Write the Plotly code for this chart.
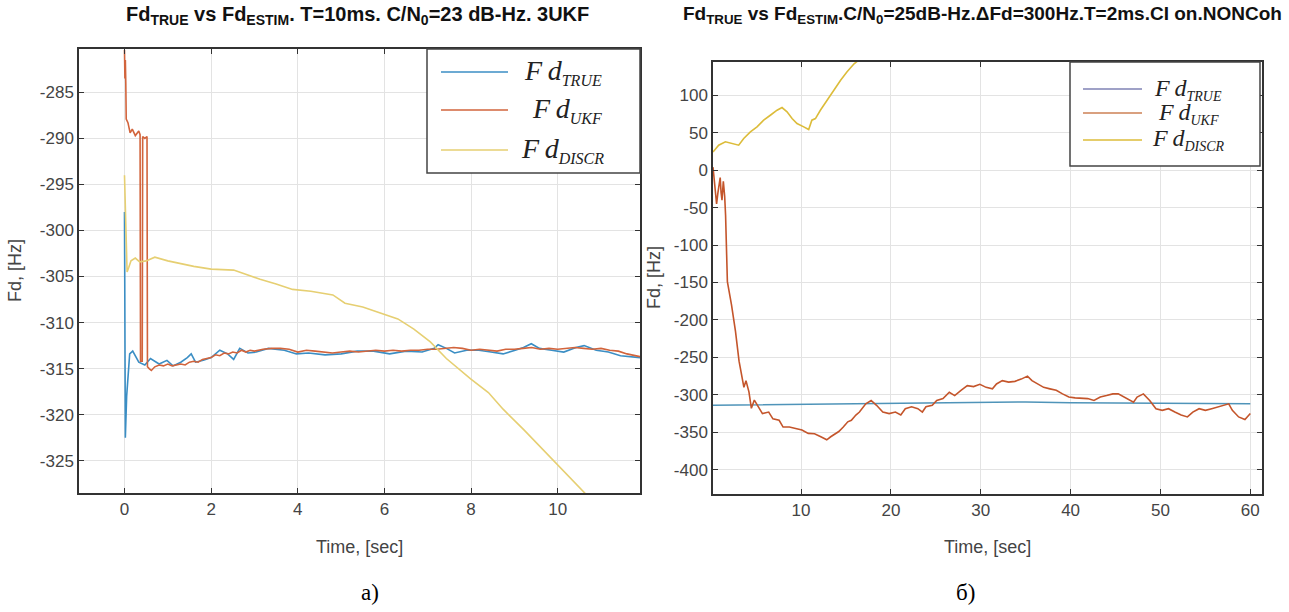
import plotly.graph_objects as go

W, H = 1289, 612

# ---------------- data: panel a) ----------------
t_true_a = [0.0, 0.02, 0.05, 0.12, 0.19, 0.33, 0.47, 0.6, 0.8, 0.98, 1.12, 1.3, 1.45, 1.54, 1.64, 1.82,
            2.0, 2.2, 2.38, 2.52, 2.66, 2.85, 3.04, 3.32, 3.69, 3.97, 4.25, 4.63, 5.0, 5.37, 5.75,
            6.12, 6.5, 6.87, 7.15, 7.24, 7.43, 7.62, 7.9, 8.18, 8.46, 8.74, 9.02, 9.21, 9.39, 9.58,
            9.86, 10.14, 10.42, 10.61, 10.89, 11.17, 11.45, 11.9]
fd_true_a = [-298.0, -322.5, -318.0, -313.4, -313.1, -314.3, -314.6, -313.9, -314.5, -314.1, -314.7, -314.3,
             -313.8, -313.4, -314.3, -314.1, -313.8, -313.0, -313.4, -314.0, -312.8, -313.3, -313.2,
             -312.8, -313.0, -313.4, -313.3, -313.5, -313.4, -313.1, -313.1, -313.4, -313.1, -313.2,
             -312.8, -312.4, -312.8, -313.3, -313.0, -313.0, -313.2, -313.4, -313.0, -312.7, -312.3,
             -312.8, -313.0, -313.2, -312.7, -312.5, -313.0, -313.2, -313.6, -313.8]

t_ukf_a = [0.0, 0.01, 0.02, 0.03, 0.04, 0.08, 0.13, 0.18, 0.25, 0.33, 0.36, 0.37, 0.41, 0.42, 0.47, 0.52,
           0.53, 0.57, 0.62, 0.7, 0.8, 0.9, 1.0, 1.1, 1.2, 1.3, 1.4, 1.5, 1.6, 1.7, 1.8, 1.9, 2.0, 2.1,
           2.2, 2.3, 2.4, 2.5, 2.6, 2.7, 2.8, 2.9, 3.0, 3.2, 3.4, 3.6, 3.8, 4.0, 4.2, 4.4, 4.6, 4.8,
           5.0, 5.2, 5.4, 5.6, 5.8, 6.0, 6.2, 6.4, 6.6, 6.8, 7.0, 7.2, 7.4, 7.6, 7.8, 8.0, 8.2, 8.4,
           8.6, 8.8, 9.0, 9.2, 9.4, 9.6, 9.8, 10.0, 10.2, 10.4, 10.6, 10.8, 11.0, 11.2, 11.4, 11.6, 11.9]
fd_ukf_a = [-280.4, -283.5, -281.5, -284.0, -287.9, -288.3, -289.4, -289.0, -289.7, -289.2, -289.6, -314.2,
            -314.2, -289.8, -290.0, -289.8, -314.8, -315.0, -315.2, -314.8, -314.6, -314.7, -314.5,
            -314.7, -314.6, -314.5, -314.6, -314.3, -314.2, -314.3, -314.0, -313.9, -313.8, -313.5,
            -313.6, -313.3, -313.4, -313.2, -313.3, -313.0, -313.2, -313.0, -313.1, -312.9, -312.8,
            -312.8, -312.9, -313.2, -313.0, -313.1, -313.2, -313.3, -313.2, -313.1, -313.2, -313.1,
            -313.0, -313.1, -313.0, -313.1, -313.0, -313.0, -312.9, -312.9, -312.8, -312.7, -312.8,
            -313.0, -312.9, -313.0, -313.1, -312.9, -312.9, -312.8, -312.7, -312.9, -312.8, -312.9,
            -312.8, -312.7, -312.8, -312.9, -312.8, -313.0, -313.1, -313.4, -313.7]

t_discr_a = [0.0, 0.03, 0.06, 0.1, 0.15, 0.25, 0.35, 0.5, 0.7, 1.0, 1.3, 1.6, 2.0, 2.52, 3.13, 3.5, 3.88,
             4.3, 4.81, 5.09, 5.5, 5.93, 6.31, 6.68, 7.06, 7.43, 7.99, 8.4, 8.74, 9.21, 9.6, 9.95, 10.3,
             10.7, 10.85]
fd_discr_a = [-294.0, -301.0, -304.5, -304.0, -303.3, -303.0, -303.4, -303.3, -302.9, -303.3, -303.6,
              -303.9, -304.2, -304.3, -305.3, -305.8, -306.4, -306.6, -307.0, -307.9, -308.3, -309.0,
              -309.6, -310.7, -312.1, -313.9, -316.1, -317.6, -319.4, -321.6, -323.5, -325.3, -327.0,
              -328.9, -329.6]

# ---------------- data: panel б) ----------------
t_true_b = [0.2, 5, 10, 15, 20, 25, 30, 35, 40, 45, 50, 55, 60]
fd_true_b = [-314.0, -313.5, -313.0, -312.0, -311.0, -310.5, -310.0, -309.5, -310.5, -310.8, -311.0,
             -311.5, -312.0]

t_ukf_b = [0.2, 0.3, 0.45, 0.6, 0.75, 0.9, 1.0, 1.1, 1.2, 1.35, 1.5, 1.6, 1.7, 1.8, 2.26, 2.7, 3.1, 3.4,
           3.64, 3.87, 4.2, 4.47, 4.8, 5.25, 5.7, 6.4, 6.87, 7.56, 8.0, 8.7, 9.4, 10.1, 10.8, 11.5, 12.2,
           12.86, 13.3, 13.8, 14.2, 14.7, 15.2, 15.6, 16.1, 16.5, 17.2, 17.8, 18.4, 19.1, 19.8, 20.5,
           21.1, 21.6, 22.3, 23.0, 23.5, 23.9, 24.6, 25.1, 25.8, 26.5, 27.1, 27.8, 28.5, 29.2, 29.9,
           30.6, 31.3, 31.75, 32.4, 33.1, 33.8, 34.5, 35.2, 35.7, 36.4, 37.0, 37.7, 38.4, 39.1, 39.8,
           40.5, 41.2, 41.9, 42.6, 43.3, 44.0, 44.7, 45.3, 46.0, 47.0, 47.4, 48.1, 48.8, 49.5, 50.2,
           50.9, 51.6, 52.3, 53.0, 53.6, 54.3, 55.0, 55.7, 56.4, 57.1, 57.6, 58.0, 58.7, 59.4, 60.0]
fd_ukf_b = [4, -10, -25, -45, -30, -18, -10, -30, -40, -15, -35, -60, -100, -149, -180, -215, -255, -277,
            -290, -281, -296, -318, -307, -316, -325, -323, -332, -334, -343, -343, -345, -347, -351.5,
            -352, -356, -360, -356, -352, -349, -343, -336, -334, -327, -323, -312, -307.5, -314, -323,
            -325, -323, -327, -318.5, -316, -318.5, -323, -316, -314, -307.5, -305, -296.5, -301, -294,
            -287.7, -289, -286, -290, -292, -285.5, -281, -283, -282, -279, -275, -281, -285.5, -290,
            -292, -294, -298.7, -303, -304, -305, -305, -307.5, -303, -301, -298.7, -298.7, -303,
            -309.7, -303, -298.7, -307.5, -318.5, -320.7, -318.5, -323, -327, -329.5, -323, -318.5,
            -320.7, -318.5, -316, -314, -312, -320.7, -329.5, -333, -325]

t_discr_b = [0.2, 0.83, 1.58, 2.32, 3.06, 3.62, 4.36, 5.1, 5.84, 6.58, 7.33, 7.88, 8.44, 9.0, 9.55, 10.3,
             10.85, 11.2, 11.6, 12.15, 12.9, 13.6, 14.4, 15.1, 15.9, 16.4, 17.0]
fd_discr_b = [24.4, 33.3, 37.8, 35.6, 33.3, 42.2, 51.1, 57.8, 66.7, 73.3, 80.0, 83.6, 77.8, 68.9, 62.2,
              57.8, 54.2, 66.7, 68.9, 80.0, 93.3, 106.7, 120.0, 131.0, 142.0, 146.7, 155.0]

xticks_a = [0, 2, 4, 6, 8, 10]
yticks_a = [-325, -320, -315, -310, -305, -300, -295, -290, -285]
xticks_b = [10, 20, 30, 40, 50, 60]
yticks_b = [-400, -350, -300, -250, -200, -150, -100, -50, 0, 50, 100]

# ---------------- styling ----------------
C_BLUE_A, C_ORANGE_A, C_YELLOW_A = "#3b8ec4", "#d2643c", "#e6cf72"
C_BLUE_B, C_ORANGE_B, C_YELLOW_B = "#4f94b9", "#c4552b", "#dcbc3a"
SANS = "Liberation Sans, Arial, sans-serif"
SERIF = "Liberation Serif, Times New Roman, serif"


def px_x(p):
    return p / W


def px_y(p):
    return 1 - p / H


def labels(vals):
    return [str(v) for v in vals]   # plain hyphen-minus, as in the reference


# plot boxes in pixels
A_L, A_R, A_T, A_B = 79, 640, 49, 493
B_L, B_R, B_T, B_B = 713, 1262, 62, 494

fig = go.Figure()
fig.add_trace(go.Scatter(x=t_true_a, y=fd_true_a, mode="lines", line=dict(color=C_BLUE_A, width=1.6),
                         xaxis="x", yaxis="y", showlegend=False))
fig.add_trace(go.Scatter(x=t_ukf_a, y=fd_ukf_a, mode="lines", line=dict(color=C_ORANGE_A, width=1.6),
                         xaxis="x", yaxis="y", showlegend=False))
fig.add_trace(go.Scatter(x=t_discr_a, y=fd_discr_a, mode="lines", line=dict(color=C_YELLOW_A, width=1.6),
                         xaxis="x", yaxis="y", showlegend=False))
fig.add_trace(go.Scatter(x=t_true_b, y=fd_true_b, mode="lines", line=dict(color=C_BLUE_B, width=1.5),
                         xaxis="x2", yaxis="y2", showlegend=False))
fig.add_trace(go.Scatter(x=t_ukf_b, y=fd_ukf_b, mode="lines", line=dict(color=C_ORANGE_B, width=1.6),
                         xaxis="x2", yaxis="y2", showlegend=False))
fig.add_trace(go.Scatter(x=t_discr_b, y=fd_discr_b, mode="lines", line=dict(color=C_YELLOW_B, width=1.6),
                         xaxis="x2", yaxis="y2", showlegend=False))

axis_common = dict(showgrid=True, gridcolor="#e3e3e3", gridwidth=1, zeroline=False,
                   showline=True, linecolor="#333333", linewidth=1.5, mirror="ticks",
                   ticks="inside", ticklen=5, tickcolor="#333333",
                   tickfont=dict(family=SANS, size=17, color="#444444"))

fig.update_layout(
    width=W, height=H, margin=dict(l=0, r=0, t=0, b=0),
    paper_bgcolor="white", plot_bgcolor="white", showlegend=False,
    xaxis=dict(domain=[px_x(A_L), px_x(A_R)], range=[-1.05, 11.9], tickvals=xticks_a,
               ticktext=labels(xticks_a), anchor="y", **axis_common),
    yaxis=dict(domain=[px_y(A_B), px_y(A_T)], range=[-328.5, -280.3], tickvals=yticks_a,
               ticktext=labels(yticks_a), anchor="x", **axis_common),
    xaxis2=dict(domain=[px_x(B_L), px_x(B_R)], range=[0.2, 61.3], tickvals=xticks_b,
                ticktext=labels(xticks_b), anchor="y2", **axis_common),
    yaxis2=dict(domain=[px_y(B_B), px_y(B_T)], range=[-432.4, 144.4], tickvals=yticks_b,
                ticktext=labels(yticks_b), anchor="x2", **axis_common),
)

ann = []
# titles
ann.append(dict(text="<b>Fd<sub>TRUE</sub> vs Fd<sub>ESTIM</sub>. T=10ms. C/N<sub>0</sub>=23 dB-Hz. 3UKF</b>",
                x=px_x(357), y=px_y(15), xref="paper", yref="paper", showarrow=False,
                font=dict(family=SANS, size=20, color="#111111"), xanchor="center", yanchor="middle"))
ann.append(dict(text="<b>Fd<sub>TRUE</sub> vs Fd<sub>ESTIM</sub>.C/N<sub>0</sub>=25dB-Hz.\u0394Fd=300Hz.T=2ms.CI on.NONCoh</b>",
                x=px_x(982), y=px_y(15), xref="paper", yref="paper", showarrow=False,
                font=dict(family=SANS, size=19, color="#111111"), xanchor="center", yanchor="middle"))
# axis labels
for xc in [(A_L + A_R) / 2, (B_L + B_R) / 2]:
    ann.append(dict(text="Time, [sec]", x=px_x(xc), y=px_y(547), xref="paper", yref="paper",
                    showarrow=False, font=dict(family=SANS, size=18, color="#444444"),
                    xanchor="center", yanchor="middle"))
ann.append(dict(text="Fd, [Hz]", x=px_x(15), y=px_y((A_T + A_B) / 2), xref="paper", yref="paper",
                showarrow=False, textangle=-90, font=dict(family=SANS, size=18, color="#444444"),
                xanchor="center", yanchor="middle"))
ann.append(dict(text="Fd, [Hz]", x=px_x(654), y=px_y((B_T + B_B) / 2), xref="paper", yref="paper",
                showarrow=False, textangle=-90, font=dict(family=SANS, size=18, color="#444444"),
                xanchor="center", yanchor="middle"))
# panel captions
ann.append(dict(text="а)", x=px_x(370), y=px_y(592), xref="paper", yref="paper", showarrow=False,
                font=dict(family=SERIF, size=23, color="black"), xanchor="center", yanchor="middle"))
ann.append(dict(text="б)", x=px_x(965), y=px_y(592), xref="paper", yref="paper", showarrow=False,
                font=dict(family=SERIF, size=23, color="black"), xanchor="center", yanchor="middle"))

shapes = []


# manual legends (drawn boxes, sample lines and math-style labels)
def legend(box, rows, line_x, text_xs, colors, big, small, names):
    l, r, t, b = box
    shapes.append(dict(type="rect", xref="paper", yref="paper", x0=px_x(l), x1=px_x(r),
                       y0=px_y(b), y1=px_y(t), line=dict(color="#444444", width=1.5),
                       fillcolor="white", layer="above"))
    for ry, c, nm, tx in zip(rows, colors, names, text_xs):
        shapes.append(dict(type="line", xref="paper", yref="paper", x0=px_x(line_x[0]), x1=px_x(line_x[1]),
                           y0=px_y(ry), y1=px_y(ry), line=dict(color=c, width=1.6), layer="above"))
        ann.append(dict(text="<i>F\u2009d</i><sub><span style='font-size:%dpx'><i>%s</i></span></sub>" % (small, nm),
                        x=px_x(tx), y=px_y(ry), xref="paper", yref="paper", showarrow=False,
                        xanchor="left", yanchor="middle",
                        font=dict(family=SERIF, size=big, color="#222222")))


legend((427, 640, 49, 173), [72, 110, 150], (441, 508), [522, 530, 519],
       [C_BLUE_A, C_ORANGE_A, C_YELLOW_A], 28, 16, ["TRUE", "UKF", "DISCR"])
legend((1070, 1260, 62, 166), [89, 113, 140], (1083, 1142), [1152, 1156, 1150],
       ["#7f82b5", "#cc8055", C_YELLOW_B], 24, 14, ["TRUE", "UKF", "DISCR"])

fig.update_layout(annotations=ann, shapes=shapes)
fig.write_html("out.html")
